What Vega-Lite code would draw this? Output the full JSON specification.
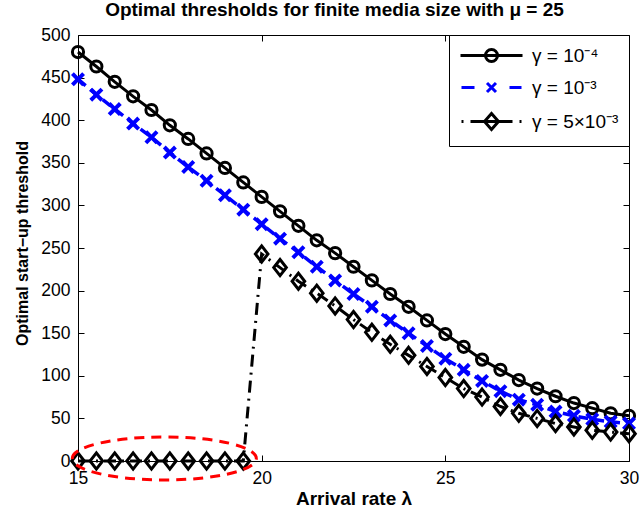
{
  "$schema": "https://vega.github.io/schema/vega-lite/v6.json",
  "width": 551,
  "height": 426,
  "autosize": "none",
  "padding": {"left": 78, "top": 35, "right": 11, "bottom": 55},
  "background": "white",
  "title": {
    "text": "Optimal thresholds for finite media size with μ = 25",
    "font": "Liberation Sans",
    "fontSize": 19,
    "fontWeight": "bold",
    "color": "black",
    "anchor": "middle",
    "dx": -19,
    "offset": 6
  },
  "config": {
    "view": {"stroke": "black", "strokeWidth": 1},
    "axis": {
      "labelFont": "Liberation Sans",
      "titleFont": "Liberation Sans",
      "labelFontSize": 17.5,
      "titleFontSize": 19,
      "titleFontWeight": "bold",
      "labelColor": "black",
      "titleColor": "black",
      "grid": false,
      "domain": false,
      "tickColor": "black",
      "tickSize": -6,
      "tickWidth": 1,
      "labelFlush": false
    },
    "legend": {
      "labelFont": "Liberation Sans",
      "labelFontSize": 19,
      "labelColor": "black"
    }
  },
  "datasets": {
    "curves": [
      {"lambda": 15, "threshold": 480, "series": "γ = 10⁻⁴"},
      {"lambda": 15.5, "threshold": 463, "series": "γ = 10⁻⁴"},
      {"lambda": 16, "threshold": 445, "series": "γ = 10⁻⁴"},
      {"lambda": 16.5, "threshold": 428, "series": "γ = 10⁻⁴"},
      {"lambda": 17, "threshold": 412, "series": "γ = 10⁻⁴"},
      {"lambda": 17.5, "threshold": 394, "series": "γ = 10⁻⁴"},
      {"lambda": 18, "threshold": 378, "series": "γ = 10⁻⁴"},
      {"lambda": 18.5, "threshold": 361, "series": "γ = 10⁻⁴"},
      {"lambda": 19, "threshold": 344, "series": "γ = 10⁻⁴"},
      {"lambda": 19.5, "threshold": 327, "series": "γ = 10⁻⁴"},
      {"lambda": 20, "threshold": 310, "series": "γ = 10⁻⁴"},
      {"lambda": 20.5, "threshold": 293, "series": "γ = 10⁻⁴"},
      {"lambda": 21, "threshold": 276, "series": "γ = 10⁻⁴"},
      {"lambda": 21.5, "threshold": 259, "series": "γ = 10⁻⁴"},
      {"lambda": 22, "threshold": 244, "series": "γ = 10⁻⁴"},
      {"lambda": 22.5, "threshold": 228, "series": "γ = 10⁻⁴"},
      {"lambda": 23, "threshold": 212, "series": "γ = 10⁻⁴"},
      {"lambda": 23.5, "threshold": 196, "series": "γ = 10⁻⁴"},
      {"lambda": 24, "threshold": 181, "series": "γ = 10⁻⁴"},
      {"lambda": 24.5, "threshold": 165, "series": "γ = 10⁻⁴"},
      {"lambda": 25, "threshold": 149, "series": "γ = 10⁻⁴"},
      {"lambda": 25.5, "threshold": 134, "series": "γ = 10⁻⁴"},
      {"lambda": 26, "threshold": 119, "series": "γ = 10⁻⁴"},
      {"lambda": 26.5, "threshold": 107, "series": "γ = 10⁻⁴"},
      {"lambda": 27, "threshold": 95, "series": "γ = 10⁻⁴"},
      {"lambda": 27.5, "threshold": 85, "series": "γ = 10⁻⁴"},
      {"lambda": 28, "threshold": 76, "series": "γ = 10⁻⁴"},
      {"lambda": 28.5, "threshold": 68, "series": "γ = 10⁻⁴"},
      {"lambda": 29, "threshold": 62, "series": "γ = 10⁻⁴"},
      {"lambda": 29.5, "threshold": 56, "series": "γ = 10⁻⁴"},
      {"lambda": 30, "threshold": 53, "series": "γ = 10⁻⁴"},
      {"lambda": 15, "threshold": 448, "series": "γ = 10⁻³"},
      {"lambda": 15.5, "threshold": 430, "series": "γ = 10⁻³"},
      {"lambda": 16, "threshold": 413, "series": "γ = 10⁻³"},
      {"lambda": 16.5, "threshold": 396, "series": "γ = 10⁻³"},
      {"lambda": 17, "threshold": 380, "series": "γ = 10⁻³"},
      {"lambda": 17.5, "threshold": 362, "series": "γ = 10⁻³"},
      {"lambda": 18, "threshold": 345, "series": "γ = 10⁻³"},
      {"lambda": 18.5, "threshold": 329, "series": "γ = 10⁻³"},
      {"lambda": 19, "threshold": 312, "series": "γ = 10⁻³"},
      {"lambda": 19.5, "threshold": 295, "series": "γ = 10⁻³"},
      {"lambda": 20, "threshold": 278, "series": "γ = 10⁻³"},
      {"lambda": 20.5, "threshold": 261, "series": "γ = 10⁻³"},
      {"lambda": 21, "threshold": 245, "series": "γ = 10⁻³"},
      {"lambda": 21.5, "threshold": 228, "series": "γ = 10⁻³"},
      {"lambda": 22, "threshold": 212, "series": "γ = 10⁻³"},
      {"lambda": 22.5, "threshold": 196, "series": "γ = 10⁻³"},
      {"lambda": 23, "threshold": 181, "series": "γ = 10⁻³"},
      {"lambda": 23.5, "threshold": 165, "series": "γ = 10⁻³"},
      {"lambda": 24, "threshold": 150, "series": "γ = 10⁻³"},
      {"lambda": 24.5, "threshold": 135, "series": "γ = 10⁻³"},
      {"lambda": 25, "threshold": 120, "series": "γ = 10⁻³"},
      {"lambda": 25.5, "threshold": 107, "series": "γ = 10⁻³"},
      {"lambda": 26, "threshold": 94, "series": "γ = 10⁻³"},
      {"lambda": 26.5, "threshold": 82, "series": "γ = 10⁻³"},
      {"lambda": 27, "threshold": 72, "series": "γ = 10⁻³"},
      {"lambda": 27.5, "threshold": 66, "series": "γ = 10⁻³"},
      {"lambda": 28, "threshold": 58, "series": "γ = 10⁻³"},
      {"lambda": 28.5, "threshold": 53, "series": "γ = 10⁻³"},
      {"lambda": 29, "threshold": 49, "series": "γ = 10⁻³"},
      {"lambda": 29.5, "threshold": 46, "series": "γ = 10⁻³"},
      {"lambda": 30, "threshold": 44, "series": "γ = 10⁻³"},
      {"lambda": 15, "threshold": 0, "series": "γ = 5×10⁻³"},
      {"lambda": 15.5, "threshold": 0, "series": "γ = 5×10⁻³"},
      {"lambda": 16, "threshold": 0, "series": "γ = 5×10⁻³"},
      {"lambda": 16.5, "threshold": 0, "series": "γ = 5×10⁻³"},
      {"lambda": 17, "threshold": 0, "series": "γ = 5×10⁻³"},
      {"lambda": 17.5, "threshold": 0, "series": "γ = 5×10⁻³"},
      {"lambda": 18, "threshold": 0, "series": "γ = 5×10⁻³"},
      {"lambda": 18.5, "threshold": 0, "series": "γ = 5×10⁻³"},
      {"lambda": 19, "threshold": 0, "series": "γ = 5×10⁻³"},
      {"lambda": 19.5, "threshold": 0, "series": "γ = 5×10⁻³"},
      {"lambda": 20, "threshold": 243, "series": "γ = 5×10⁻³"},
      {"lambda": 20.5, "threshold": 227, "series": "γ = 5×10⁻³"},
      {"lambda": 21, "threshold": 211, "series": "γ = 5×10⁻³"},
      {"lambda": 21.5, "threshold": 197, "series": "γ = 5×10⁻³"},
      {"lambda": 22, "threshold": 182, "series": "γ = 5×10⁻³"},
      {"lambda": 22.5, "threshold": 166, "series": "γ = 5×10⁻³"},
      {"lambda": 23, "threshold": 151, "series": "γ = 5×10⁻³"},
      {"lambda": 23.5, "threshold": 137, "series": "γ = 5×10⁻³"},
      {"lambda": 24, "threshold": 124, "series": "γ = 5×10⁻³"},
      {"lambda": 24.5, "threshold": 111, "series": "γ = 5×10⁻³"},
      {"lambda": 25, "threshold": 98, "series": "γ = 5×10⁻³"},
      {"lambda": 25.5, "threshold": 85, "series": "γ = 5×10⁻³"},
      {"lambda": 26, "threshold": 75, "series": "γ = 5×10⁻³"},
      {"lambda": 26.5, "threshold": 64, "series": "γ = 5×10⁻³"},
      {"lambda": 27, "threshold": 56, "series": "γ = 5×10⁻³"},
      {"lambda": 27.5, "threshold": 50, "series": "γ = 5×10⁻³"},
      {"lambda": 28, "threshold": 44, "series": "γ = 5×10⁻³"},
      {"lambda": 28.5, "threshold": 40, "series": "γ = 5×10⁻³"},
      {"lambda": 29, "threshold": 36, "series": "γ = 5×10⁻³"},
      {"lambda": 29.5, "threshold": 34, "series": "γ = 5×10⁻³"},
      {"lambda": 30, "threshold": 32, "series": "γ = 5×10⁻³"}
    ],
    "highlight": [
      {"lambda": 17.35, "threshold": 3}
    ]
  },
  "resolve": {"axis": {"x": "independent", "y": "independent"}},
  "layer": [
    {
      "data": {"name": "curves"},
      "transform": [{"filter": {"field": "series", "equal": "γ = 10⁻⁴"}}],
      "mark": {"type": "line", "stroke": "black", "strokeWidth": 3},
      "encoding": {
        "x": {
          "field": "lambda", "type": "quantitative",
          "scale": {"domain": [15, 30], "nice": false, "zero": false},
          "axis": {"orient": "bottom", "title": "Arrival rate λ", "values": [15, 20, 25, 30], "labelPadding": 14, "titlePadding": 3}
        },
        "y": {
          "field": "threshold", "type": "quantitative",
          "scale": {"domain": [0, 500], "nice": false},
          "axis": {"orient": "left", "title": "Optimal start−up threshold", "titleFontSize": 16, "titleY": 208, "values": [0,50,100,150,200,250,300,350,400,450,500], "labelPadding": 14, "titlePadding": 10}
        }
      }
    },
    {
      "data": {"name": "curves"},
      "transform": [{"filter": {"field": "series", "equal": "γ = 10⁻³"}}],
      "mark": {"type": "line", "stroke": "blue", "strokeWidth": 3.5, "strokeDash": [10, 6]},
      "encoding": {
        "x": {"field": "lambda", "type": "quantitative", "axis": null},
        "y": {"field": "threshold", "type": "quantitative", "axis": null}
      }
    },
    {
      "data": {"name": "curves"},
      "transform": [{"filter": {"field": "series", "equal": "γ = 5×10⁻³"}}],
      "mark": {"type": "line", "stroke": "black", "strokeWidth": 3, "strokeDash": [12, 6, 2, 6]},
      "encoding": {
        "x": {"field": "lambda", "type": "quantitative", "axis": null},
        "y": {"field": "threshold", "type": "quantitative", "axis": null}
      }
    },
    {
      "data": {"name": "curves"},
      "transform": [{"filter": {"field": "series", "equal": "γ = 10⁻⁴"}}],
      "mark": {"type": "point", "shape": "circle", "filled": false, "stroke": "black", "strokeWidth": 3, "size": 125, "opacity": 1},
      "encoding": {
        "x": {"field": "lambda", "type": "quantitative", "axis": {"orient": "top", "labels": false, "title": null, "values": [15, 20, 25, 30]}},
        "y": {"field": "threshold", "type": "quantitative", "axis": {"orient": "right", "labels": false, "title": null, "values": [0,50,100,150,200,250,300,350,400,450,500]}}
      }
    },
    {
      "data": {"name": "curves"},
      "transform": [{"filter": {"field": "series", "equal": "γ = 10⁻³"}}],
      "mark": {"type": "point", "shape": "M -1 -0.6 L -0.6 -1 L 0 -0.4 L 0.6 -1 L 1 -0.6 L 0.4 0 L 1 0.6 L 0.6 1 L 0 0.4 L -0.6 1 L -1 0.6 L -0.4 0 Z", "filled": true, "color": "blue", "strokeWidth": 1, "size": 196, "opacity": 1},
      "encoding": {
        "x": {"field": "lambda", "type": "quantitative", "axis": null},
        "y": {"field": "threshold", "type": "quantitative", "axis": null}
      }
    },
    {
      "data": {"name": "curves"},
      "transform": [{"filter": {"field": "series", "equal": "γ = 5×10⁻³"}}],
      "mark": {"type": "point", "shape": "M 0 -1.15 L 0.9 0 L 0 1.15 L -0.9 0 Z", "filled": false, "stroke": "black", "strokeWidth": 3, "size": 196, "opacity": 1},
      "encoding": {
        "x": {"field": "lambda", "type": "quantitative", "axis": null},
        "y": {"field": "threshold", "type": "quantitative", "axis": null}
      }
    },
    {
      "data": {"name": "curves"},
      "transform": [{"filter": {"field": "series", "equal": "none"}}],
      "mark": {"type": "point", "filled": false, "strokeWidth": 3, "opacity": 1},
      "encoding": {
        "x": {"field": "lambda", "type": "quantitative", "axis": null},
        "y": {"field": "threshold", "type": "quantitative", "axis": null},
        "color": {
          "field": "series", "type": "nominal",
          "scale": {"domain": ["γ = 10⁻⁴", "γ = 10⁻³", "γ = 5×10⁻³"], "range": ["black", "blue", "black"]},
          "legend": {
            "title": null,
            "orient": "top-right",
            "offset": 0,
            "strokeColor": "black",
            "fillColor": "white",
            "padding": 10,
            "rowPadding": 9,
            "symbolSize": 324,
            "symbolStrokeWidth": 3,
            "labelOffset": 52
          }
        },
        "shape": {
          "field": "series", "type": "nominal",
          "scale": {
            "domain": ["γ = 10⁻⁴", "γ = 10⁻³", "γ = 5×10⁻³"],
            "range": [
              "M -1 0 L 5.89 0 M 3.111 0 C 3.111 0.368 2.812 0.667 2.444 0.667 C 2.076 0.667 1.777 0.368 1.777 0 C 1.777 -0.368 2.076 -0.667 2.444 -0.667 C 2.812 -0.667 3.111 -0.368 3.111 0 Z",
              "M -0.889 0 L 0.556 0 M 4.444 0 L 5.778 0 M 1.944 -0.5 L 2.944 0.5 M 1.944 0.5 L 2.944 -0.5",
              "M -0.889 0 L -0.667 0 M 0.111 0 L 4.778 0 M 5.556 0 L 5.778 0 M 2.444 -0.889 L 3.222 0 L 2.444 0.889 L 1.666 0 Z"
            ]
          }
        }
      }
    },
    {
      "data": {"name": "highlight"},
      "mark": {
        "type": "point",
        "shape": "M -1 0 C -1 -0.129 -0.552 -0.234 0 -0.234 C 0.552 -0.234 1 -0.129 1 0 C 1 0.129 0.552 0.234 0 0.234 C -0.552 0.234 -1 0.129 -1 0 Z",
        "size": 33856,
        "filled": false,
        "stroke": "red",
        "strokeWidth": 3,
        "strokeDash": [10, 7],
        "opacity": 1
      },
      "encoding": {
        "x": {"field": "lambda", "type": "quantitative", "axis": null},
        "y": {"field": "threshold", "type": "quantitative", "axis": null}
      }
    }
  ]
}
